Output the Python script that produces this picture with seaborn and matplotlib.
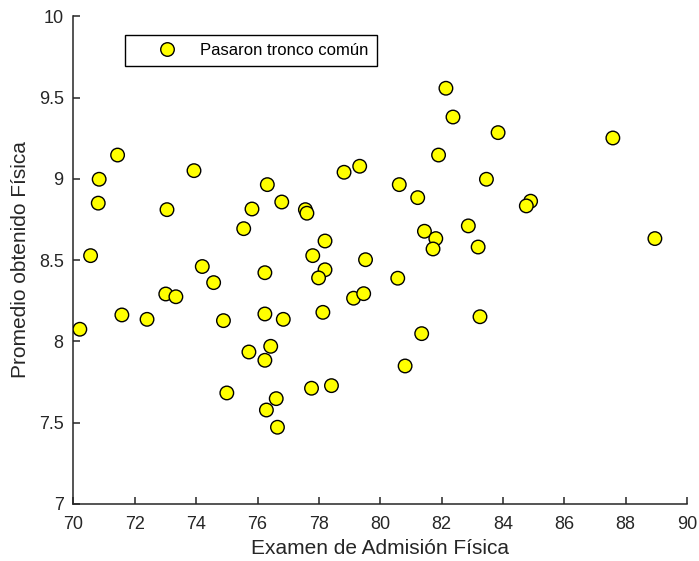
import matplotlib
matplotlib.use("Agg")
import matplotlib.pyplot as plt
import seaborn as sns
import pandas as pd

# Admission exam score (x) vs. physics average (y)
examen = [
    71.44, 70.84, 70.81, 73.05, 73.93, 70.56, 74.20, 75.55, 75.82, 76.32,
    76.79, 77.56, 77.61, 78.20, 77.80, 78.82, 79.33, 79.52, 76.24, 78.20,
    82.14, 82.37, 83.84, 87.58, 81.90, 80.62, 81.22, 83.46, 84.90, 84.76,
    82.87, 81.44, 81.81, 81.72, 83.19, 88.95, 70.21, 71.58, 72.40, 73.01,
    73.34, 74.57, 74.89, 75.00, 76.24, 76.84, 75.72, 76.43, 76.24, 76.29,
    76.61, 76.65, 77.76, 78.41, 77.99, 78.13, 79.13, 79.46, 80.57, 83.25,
    81.35, 80.81,
]
promedio = [
    9.146, 8.997, 8.850, 8.810, 9.050, 8.527, 8.460, 8.693, 8.814, 8.964,
    8.857, 8.810, 8.788, 8.617, 8.527, 9.040, 9.077, 8.502, 8.422, 8.440,
    9.557, 9.380, 9.284, 9.251, 9.146, 8.964, 8.884, 8.997, 8.862, 8.833,
    8.710, 8.677, 8.632, 8.568, 8.580, 8.632, 8.074, 8.162, 8.135, 8.291,
    8.274, 8.361, 8.127, 7.682, 8.168, 8.135, 7.934, 7.969, 7.883, 7.577,
    7.647, 7.471, 7.711, 7.727, 8.390, 8.178, 8.265, 8.293, 8.388, 8.151,
    8.047, 7.848,
]
serie = "Pasaron tronco común"
x_ticks = [70, 72, 74, 76, 78, 80, 82, 84, 86, 88, 90]
y_ticks = [7, 7.5, 8, 8.5, 9, 9.5, 10]
y_ticklabels = ["7", "7.5", "8", "8.5", "9", "9.5", "10"]

df = pd.DataFrame({"x": examen, "y": promedio, "grupo": serie})

sns.set_theme(style="white")
plt.rcParams["font.family"] = ["Liberation Sans", "DejaVu Sans"]
ink = "#262626"

fig = plt.figure(figsize=(6.99, 5.61), dpi=100)
ax = fig.add_axes([0.105, 0.102, 0.878, 0.869])

sns.scatterplot(data=df, x="x", y="y", hue="grupo", palette=["#ffff00"],
                s=95, edgecolor="black", linewidth=1.0, ax=ax, zorder=3)

ax.set_xlim(70, 90)
ax.set_ylim(7, 10)
ax.set_xticks(x_ticks)
ax.set_xticklabels([str(t) for t in x_ticks])
ax.set_yticks(y_ticks)
ax.set_yticklabels(y_ticklabels)

for side in ("top", "right"):
    ax.spines[side].set_visible(False)
for side in ("left", "bottom"):
    ax.spines[side].set_color(ink)
    ax.spines[side].set_linewidth(1.1)

ax.tick_params(axis="both", which="major", bottom=True, left=True,
               direction="in", length=5, width=1.1, color=ink,
               labelsize=13, labelcolor=ink)
ax.tick_params(axis="y", pad=7)
ax.tick_params(axis="x", pad=9)

ax.set_xlabel("Examen de Admisión Física", fontsize=15, color=ink, labelpad=4)
ax.set_ylabel("Promedio obtenido Física", fontsize=15, color=ink, labelpad=6)

leg = ax.legend(loc="upper left", bbox_to_anchor=(0.084, 0.962), borderaxespad=0,
                fontsize=12, frameon=True, fancybox=False, framealpha=1,
                edgecolor="black", handlelength=4.0, handletextpad=0.0,
                borderpad=0.5, markerscale=1.0)
leg.get_frame().set_linewidth(1.0)
for t in leg.get_texts():
    t.set_color("black")

fig.savefig("out.png", dpi=100)
